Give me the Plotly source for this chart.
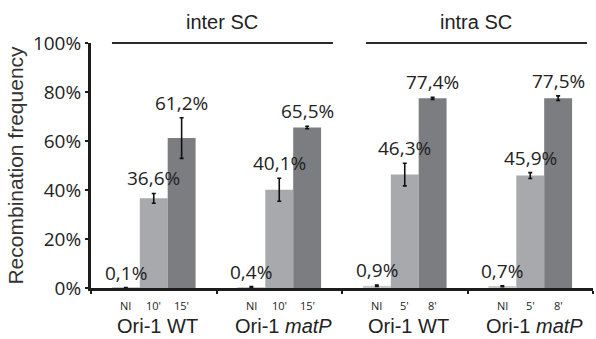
import plotly.graph_objects as go

# Strains (x categories) and sampling times
strains = ["Ori-1 WT", "Ori-1 <i>matP</i>", "Ori-1 WT", "Ori-1 <i>matP</i>"]
time_labels = [["NI", "10'", "15'"], ["NI", "10'", "15'"],
               ["NI", "5'", "8'"], ["NI", "5'", "8'"]]

# Recombination frequency (%) per time point, per strain
ni_vals = [0.1, 0.4, 0.9, 0.7]
t1_vals = [36.6, 40.1, 46.3, 45.9]
t2_vals = [61.2, 65.5, 77.4, 77.5]

# Error bar half-widths (%)
ni_err = [0.1, 0.2, 0.3, 0.2]
t1_err = [2.0, 4.7, 4.6, 1.2]
t2_err = [8.3, 0.5, 0.4, 0.9]

# Top section headers
sections = ["inter SC", "intra SC"]

series = [
    (ni_vals, ni_err, "#c9cbcd"),
    (t1_vals, t1_err, "#a7a9ac"),
    (t2_vals, t2_err, "#7c7d81"),
]

BARGAP = 1 / 3
BAR_W = (1 - BARGAP) / 3
AXIS_COLOR = "#1c1c1c"
TEXT_COLOR = "#222222"
NUM_FONT = "Open Sans"
LBL_FONT = "Liberation Sans, Arial"

fig = go.Figure()
for vals, errs, color in series:
    fig.add_trace(go.Bar(
        x=list(range(len(strains))),
        y=vals,
        marker=dict(color=color, line=dict(width=0)),
        error_y=dict(type="data", array=errs, visible=True,
                     color="#111111", thickness=1.6, width=2),
        showlegend=False,
        hoverinfo="skip",
    ))


def fmt(v):
    return f"{v:.1f}".replace(".", ",") + "%"


annotations = []
for i in range(len(strains)):
    for k, (vals, errs, _) in enumerate(series):
        xc = i + (k - 1) * BAR_W
        # value label above each bar/error bar
        annotations.append(dict(
            x=xc, y=vals[i] + errs[i], xref="x", yref="y",
            text=fmt(vals[i]), showarrow=False, yanchor="bottom",
            yshift=0, font=dict(family=NUM_FONT, size=19, color=TEXT_COLOR),
        ))
        # time point label under the axis
        annotations.append(dict(
            x=xc, y=0, xref="x", yref="paper",
            text=time_labels[i][k], showarrow=False, yanchor="top",
            yshift=-8, font=dict(family=NUM_FONT, size=11, color=TEXT_COLOR),
        ))
    # strain name
    annotations.append(dict(
        x=i + 0.03, y=0, xref="x", yref="paper",
        text=strains[i], showarrow=False, yanchor="bottom",
        yshift=-51, font=dict(family=LBL_FONT, size=20, color=TEXT_COLOR),
    ))

# section headers with their underline bars
section_spans = [(-0.333, 1.428), (1.691, 3.452)]
shapes = []
for name, (x0, x1) in zip(sections, section_spans):
    shapes.append(dict(type="line", xref="x", yref="paper",
                       x0=x0, x1=x1, y0=1.0, y1=1.0,
                       line=dict(color="#2a2a2a", width=2.2)))
    annotations.append(dict(
        x=(x0 + x1) / 2, y=1.0, xref="x", yref="paper",
        text=name, showarrow=False, yanchor="bottom", yshift=8,
        font=dict(family=LBL_FONT, size=20, color=TEXT_COLOR),
    ))

fig.update_layout(
    width=596, height=339,
    margin=dict(l=91, r=3, t=43, b=51),
    paper_bgcolor="white", plot_bgcolor="white",
    barmode="group", bargap=BARGAP, bargroupgap=0,
    annotations=annotations, shapes=shapes,
    xaxis=dict(
        type="category", range=[-0.5, len(strains) - 0.5],
        showline=True, linecolor=AXIS_COLOR, linewidth=3,
        tickson="boundaries", ticks="outside", ticklen=3,
        tickwidth=2, tickcolor=AXIS_COLOR,
        showticklabels=False, showgrid=False, zeroline=False,
    ),
    yaxis=dict(
        range=[0, 100], dtick=20, ticksuffix="%",
        showline=True, linecolor=AXIS_COLOR, linewidth=3,
        ticks="outside", ticklen=3, tickwidth=2, tickcolor=AXIS_COLOR,
        showgrid=False, zeroline=False,
        tickfont=dict(family=NUM_FONT, size=19, color=TEXT_COLOR),
        title=dict(text="Recombination frequency", standoff=4,
                   font=dict(family=LBL_FONT, size=21, color="#333333")),
    ),
)

fig.write_html("out.html")
